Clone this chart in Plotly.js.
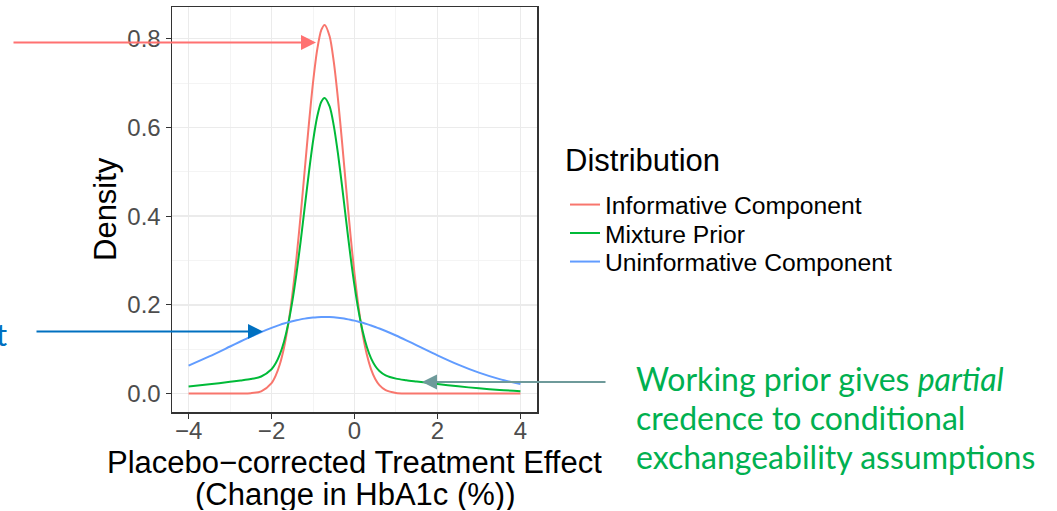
<!DOCTYPE html>
<html>
<head>
<meta charset="utf-8">
<script src="https://cdn.plot.ly/plotly-3.0.1.min.js"></script>
<style>html,body{margin:0;padding:0;background:#fff;}#chart{width:1057px;height:511px;}</style>
</head>
<body>
<div id="chart"></div>
<script>
// Treatment effect grid (Change in HbA1c, %)
const effect = [-4, -3.5, -3, -2.75, -2.5, -2.25, -2, -1.9, -1.8, -1.7, -1.6, -1.5, -1.4, -1.3, -1.2, -1.1, -1.0, -0.9, -0.8, -0.72, -0.6, -0.5, -0.4, -0.3, -0.2, -0.1, 0, 0.1, 0.2, 0.3, 0.4, 0.5, 0.6, 0.75, 1.0, 1.25, 1.5, 2.0, 2.5, 3.0, 3.5, 4.0];
// Densities
const informative = [0, 0, 0.00001, 0.00011, 0.00086, 0.00517, 0.02374, 0.04049, 0.06612, 0.10340, 0.15481, 0.22196, 0.30468, 0.40051, 0.50411, 0.60756, 0.70110, 0.77470, 0.81967, 0.83113, 0.80556, 0.74827, 0.66552, 0.56680, 0.46222, 0.36089, 0.26984, 0.19318, 0.13242, 0.08693, 0.05461, 0.03288, 0.01895, 0.00764, 0.00135, 0.00018, 0.00002, 0, 0, 0, 0, 0];
const mixture = [0.01576, 0.02093, 0.02654, 0.02943, 0.03273, 0.03855, 0.05484, 0.06826, 0.08830, 0.11701, 0.15626, 0.20725, 0.26986, 0.34222, 0.42034, 0.49827, 0.56869, 0.62407, 0.65790, 0.66652, 0.64729, 0.60418, 0.54190, 0.46757, 0.38876, 0.31232, 0.24351, 0.18542, 0.13920, 0.10436, 0.07935, 0.06222, 0.05088, 0.04099, 0.03374, 0.03015, 0.02722, 0.02159, 0.01634, 0.01181, 0.00814, 0.00535];
const uninformative = [0.06302, 0.08371, 0.10611, 0.11738, 0.12834, 0.13869, 0.14812, 0.15158, 0.15482, 0.15784, 0.16061, 0.16313, 0.16538, 0.16734, 0.16901, 0.17038, 0.17144, 0.17218, 0.17260, 0.17270, 0.17247, 0.17192, 0.17105, 0.16987, 0.16838, 0.16659, 0.16451, 0.16215, 0.15953, 0.15666, 0.15355, 0.15022, 0.14668, 0.14104, 0.13089, 0.12004, 0.10883, 0.08634, 0.06537, 0.04722, 0.03255, 0.02141];
const seriesNames = ["Informative Component", "Mixture Prior", "Uninformative Component"];
const xTicks = [-4, -2, 0, 2, 4];
const yTicks = [0, 0.2, 0.4, 0.6, 0.8];
const yTickText = ["0.0", "0.2", "0.4", "0.6", "0.8"];
const legendTitle = "Distribution";
const xTitle1 = "Placebo\u2212corrected Treatment Effect";
const xTitle2 = "(Change in HbA1c (%))";
const yTitle = "Density";
const noteLines = ["Working prior gives <i>partial</i>", "credence to conditional", "exchangeability assumptions"];

const colors = ["#F8766D", "#00BA38", "#619CFF"];
const seriesVals = [informative, mixture, uninformative];
const legendIds = ["legend", "legend2", "legend3"];
const traces = seriesVals.map((v, i) => ({
  x: effect, y: v, type: "scatter", mode: "lines", name: seriesNames[i],
  legend: legendIds[i],
  line: {color: colors[i], width: 2, shape: "spline", smoothing: 0.8},
  hoverinfo: "skip"
}));

// plot area in pixels: left 172, right 537, top 7, bottom 412
const L = 172, R = 537, T = 7, B = 412;
const W = R - L, H = B - T;
const px = v => (v - L) / W;
const py = v => (B - v) / H;
const sans = "Liberation Sans, Arial, Helvetica, sans-serif";

const arrow = (tipX, tipY, tailX, color) => ({
  xref: "paper", yref: "paper", x: px(tipX), y: py(tipY),
  ax: tailX - tipX, ay: 0, text: "", showarrow: true,
  arrowhead: 2, arrowsize: 1.5, arrowwidth: 2, arrowcolor: color, standoff: 0
});
const legendAt = yc => ({
  x: px(565), xanchor: "left", y: py(yc), yanchor: "middle",
  font: {size: 24.7, family: sans, color: "#000"},
  bgcolor: "rgba(0,0,0,0)", itemwidth: 30
});
const label = (x, y, text, size, family, color, extra) => Object.assign({
  xref: "paper", yref: "paper", x: px(x), y: py(y), text: text, showarrow: false,
  xanchor: "center", yanchor: "middle", font: {size: size, family: family, color: color}
}, extra || {});

const layout = {
  width: 1057, height: 511,
  margin: {l: L, r: 1057 - R, t: T, b: 511 - B, pad: 0},
  paper_bgcolor: "#ffffff", plot_bgcolor: "#ffffff",
  font: {family: sans, color: "#000"},
  showlegend: true,
  legend: legendAt(205),
  legend2: legendAt(233.5),
  legend3: legendAt(262),
  xaxis: {
    range: [-4.4, 4.4], tickvals: xTicks, ticktext: xTicks.map(v => v < 0 ? "\u2212" + Math.abs(v) : String(v)),
    showgrid: true, gridcolor: "#EBEBEB", gridwidth: 1.5,
    minor: {dtick: 1, tick0: 0, showgrid: true, gridcolor: "#F4F4F4", gridwidth: 1, ticks: ""},
    ticks: "outside", ticklen: 5, tickwidth: 1.2, tickcolor: "#333333",
    tickfont: {size: 24, color: "#4D4D4D", family: sans}, ticklabelstandoff: -8,
    showline: true, linecolor: "#333333", linewidth: 1.5, mirror: true,
    zeroline: false, fixedrange: true
  },
  yaxis: {
    range: [-0.0415, 0.8715], tickvals: yTicks, ticktext: yTickText,
    showgrid: true, gridcolor: "#EBEBEB", gridwidth: 1.5,
    minor: {dtick: 0.1, tick0: 0, showgrid: true, gridcolor: "#F4F4F4", gridwidth: 1, ticks: ""},
    ticks: "outside", ticklen: 5, tickwidth: 1.2, tickcolor: "#333333",
    tickfont: {size: 24, color: "#4D4D4D", family: sans},
    showline: true, linecolor: "#333333", linewidth: 1.5, mirror: true,
    zeroline: false, fixedrange: true
  },
  annotations: [
    label(105, 209, yTitle, 31, sans, "#000", {textangle: -90}),
    label(354.5, 462, xTitle1, 31, sans, "#000", {height: 31}),
    label(354.5, 494.5, xTitle2, 31, sans, "#000", {height: 31}),
    label(563, 160, legendTitle, 31, sans, "#000", {xanchor: "left"}),
    label(634, 378, noteLines[0], 32, "Lato", "#00B050", {xanchor: "left", height: 37}),
    label(634, 417, noteLines[1], 32, "Lato", "#00B050", {xanchor: "left", height: 37}),
    label(634, 456, noteLines[2], 32, "Lato", "#00B050", {xanchor: "left", height: 37}),
    label(9, 334, "t", 31, "Lato", "#0070C0", {xanchor: "right"}),
    arrow(316, 42.5, 12, "#FF7171"),
    arrow(263, 331.5, 35, "#0070C0"),
    arrow(422, 382, 607, "#6E9A9A")
  ]
};

Plotly.newPlot("chart", traces, layout, {staticPlot: true, displayModeBar: false});
</script>
</body>
</html>
